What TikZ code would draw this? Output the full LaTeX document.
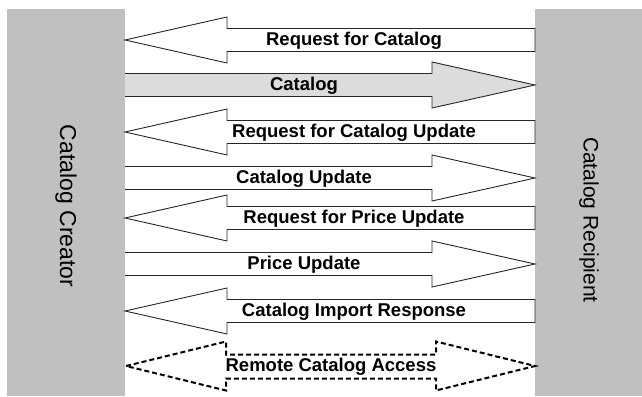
\documentclass[tikz,border=0pt]{standalone}
\usepackage{fontspec}
\setmainfont{Liberation Sans}
\definecolor{barfill}{HTML}{C0C0C0}
\definecolor{catfill}{HTML}{DCDCDC}
\begin{document}
\begin{tikzpicture}[x=1pt,y=-1pt,
  bar/.style={fill=barfill,draw=none},
  arrowshape/.style={draw=black!85,line width=0.9pt,line join=miter,fill=white},
  dasharrow/.style={draw=black,line width=2pt,dash pattern=on 5pt off 3pt,fill=white},
  lbl/.style={font=\fontsize{18.5}{21}\selectfont\bfseries,inner sep=0pt},
  side/.style={rotate=-90,inner sep=0pt}]
\useasboundingbox (0,0) rectangle (642,396);
\fill[bar] (7,9) rectangle (125,396);
\fill[bar] (535,9) rectangle (642,396);
\node[side,font=\fontsize{23}{26}\selectfont] (creator) at (66,206) {Catalog Creator};
\node[side,font=\fontsize{21}{24}\selectfont] (recipient) at (589,220) {Catalog Recipient};
% left arrows
\foreach \cy/\tx/\nm in {40/Request for Catalog/a1, 132/Request for Catalog Update/a3, 218/Request for Price Update/a5, 311/Catalog Import Response/a7}{
  \draw[arrowshape] (125,\cy) -- (227,\cy-23) -- (227,\cy-11.5) -- (535,\cy-11.5) -- (535,\cy+11.5) -- (227,\cy+11.5) -- (227,\cy+23) -- cycle;
  \node[lbl] (\nm) at (354,\cy+1) {\tx};
}
% right arrows
\foreach \cy/\tx/\nm/\fc in {85/Catalog/a2/catfill, 178/Catalog Update/a4/white, 264/Price Update/a6/white}{
  \draw[arrowshape,fill=\fc] (125,\cy-11.5) -- (432,\cy-11.5) -- (432,\cy-23) -- (535,\cy) -- (432,\cy+23) -- (432,\cy+11.5) -- (125,\cy+11.5);
  \node[lbl] (\nm) at (304,\cy+1) {\tx};
}
% dashed double arrow
\draw[dasharrow] (126,366) -- (226,341.5) -- (226,354.5) -- (436,354.5) -- (436,341.5) -- (535,366) -- (436,390.5) -- (436,378.5) -- (226,378.5) -- (226,390.5) -- cycle;
\node[lbl] (a8) at (331,367) {Remote Catalog Access};
\end{tikzpicture}
\end{document}
